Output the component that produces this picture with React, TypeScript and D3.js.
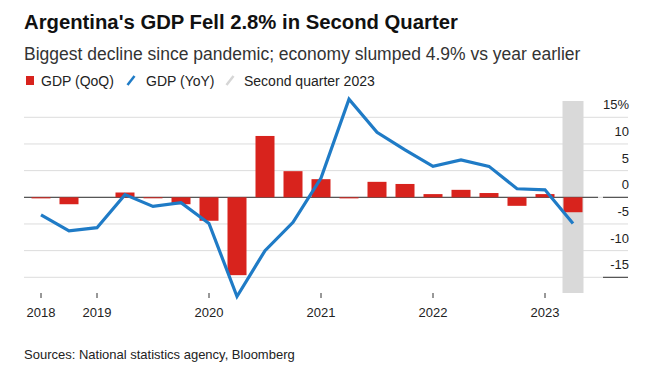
import React from "react";
import * as d3 from "d3";

const quarters = [
  "2018Q3", "2018Q4", "2019Q1", "2019Q2", "2019Q3", "2019Q4",
  "2020Q1", "2020Q2", "2020Q3", "2020Q4", "2021Q1", "2021Q2",
  "2021Q3", "2021Q4", "2022Q1", "2022Q2", "2022Q3", "2022Q4",
  "2023Q1", "2023Q2",
];
const gdpQoQ = [-0.2, -1.3, 0.0, 0.9, -0.1, -1.3, -4.4, -14.6, 11.5, 4.9, 3.4, -0.2, 2.9, 2.5, 0.6, 1.4, 0.8, -1.6, 0.6, -2.8];
const gdpYoY = [-3.3, -6.3, -5.7, 0.5, -1.7, -1.0, -4.9, -18.6, -10.0, -4.7, 3.6, 18.4, 12.2, 8.9, 5.8, 7.0, 5.8, 1.6, 1.4, -4.9];
const yTicks = [15, 10, 5, 0, -5, -10, -15];
const xTickQuarters = ["2018Q3", "2019Q1", "2020Q1", "2021Q1", "2022Q1", "2023Q1"];
const xTickLabels = ["2018", "2019", "2020", "2021", "2022", "2023"];
const highlightQuarter = "2023Q2";

const FONT = "'Liberation Sans', Arial, Helvetica, sans-serif";
const RED = "#d8231d";
const BLUE = "#1f7bc6";
const BAND = "#d9d9d9";

export default function App() {
  const W = 667, H = 380;
  const x = d3.scaleLinear().domain([0, quarters.length - 1]).range([41, 573]);
  const y = d3.scaleLinear().domain([-15, 15]).range([277.3, 117.3]);
  const barW = 19;
  const line = d3.line<number>().x((_, i) => x(i)).y((d) => y(d));
  const hi = quarters.indexOf(highlightQuarter);

  return (
    <svg width={W} height={H} style={{ position: "absolute", left: 0, top: 0, background: "#fff" }} fontFamily={FONT}>
      <rect x={0} y={0} width={W} height={H} fill="#fff" />
      <text x={24} y={29} fontSize={20.3} fontWeight="bold" fill="#111">Argentina's GDP Fell 2.8% in Second Quarter</text>
      <text x={24} y={60} fontSize={17.5} fill="#333">Biggest decline since pandemic; economy slumped 4.9% vs year earlier</text>

      {/* legend */}
      <rect x={26} y={76} width={8} height={9} fill={RED} />
      <text x={41} y={86} fontSize={14} fill="#222">GDP (QoQ)</text>
      <line x1={127.5} y1={85} x2={134.5} y2={76} stroke={BLUE} strokeWidth={2.5} />
      <text x={146} y={86} fontSize={14} fill="#222">GDP (YoY)</text>
      <line x1={226.5} y1={85} x2={233.5} y2={76} stroke="#d6d6d6" strokeWidth={2.5} />
      <text x={244} y={86} fontSize={14} fill="#222">Second quarter 2023</text>

      {/* gridlines */}
      {yTicks.map((t) => (
        <line key={"g" + t} x1={24} x2={628} y1={y(t)} y2={y(t)} stroke="#dcdcdc" strokeWidth={1} />
      ))}
      {/* highlight band */}
      <rect x={x(hi) - 10.5} y={101} width={21} height={192} fill={BAND} />
      {/* zero and bottom axis lines */}
      <line x1={24} x2={598} y1={y(0)} y2={y(0)} stroke="#333" strokeWidth={1} />
      <line x1={603} x2={628} y1={y(0)} y2={y(0)} stroke="#333" strokeWidth={1} />
      <line x1={603} x2={628} y1={y(-15)} y2={y(-15)} stroke="#333" strokeWidth={1} />

      {/* y labels */}
      {yTicks.map((t) => (
        <text key={"l" + t} x={629} y={y(t) - 8} fontSize={13} fill="#222" textAnchor="end">
          {t}
          {t === 15 ? <tspan>%</tspan> : null}
        </text>
      ))}

      {/* bars */}
      {gdpQoQ.map((v, i) => (
        <rect key={"b" + i} x={x(i) - barW / 2} width={barW}
          y={Math.min(y(v), y(0))} height={Math.max(Math.abs(y(v) - y(0)), v !== 0 ? 1 : 0)} fill={RED} />
      ))}

      {/* line */}
      <path d={line(gdpYoY) || ""} fill="none" stroke={BLUE} strokeWidth={3.2} strokeLinejoin="miter" />

      {/* x axis ticks */}
      {xTickQuarters.map((q, k) => {
        const i = quarters.indexOf(q);
        return (
          <g key={q}>
            <line x1={x(i)} x2={x(i)} y1={293} y2={298} stroke="#333" strokeWidth={1} />
            <text x={x(i)} y={317} fontSize={13} fill="#222" textAnchor="middle">{xTickLabels[k]}</text>
          </g>
        );
      })}

      <text x={24} y={359} fontSize={13} fill="#222">Sources: National statistics agency, Bloomberg</text>
    </svg>
  );
}
